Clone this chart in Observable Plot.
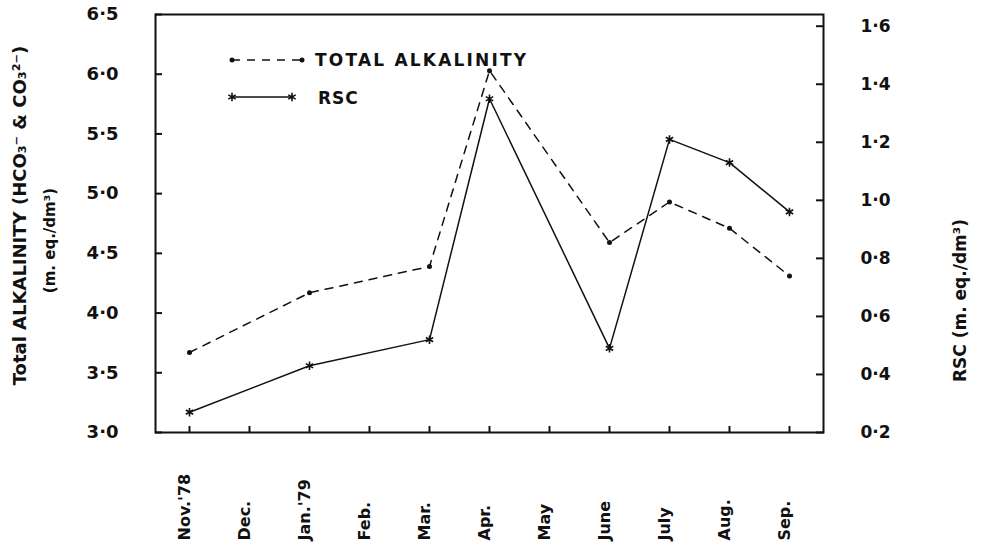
<!DOCTYPE html>
<html><head><meta charset="utf-8">
<script src="https://cdn.jsdelivr.net/npm/d3@7"></script>
<script src="https://cdn.jsdelivr.net/npm/@observablehq/plot@0.6"></script>
<style>
html,body{margin:0;padding:0;background:#fff;}
</style></head><body><div id="chart"></div>
<script>
const months = ["Nov.'78","Dec.","Jan.'79","Feb.","Mar.","Apr.","May","June","July","Aug.","Sep."];
const sampleMonths = ["Nov.'78","Jan.'79","Mar.","Apr.","June","July","Aug.","Sep."];
const taValues = [3.67,4.17,4.39,6.03,4.59,4.93,4.71,4.31];
const rscValues = [0.27,0.43,0.52,1.35,0.49,1.21,1.13,0.96];
const leftTicks = [3.0,3.5,4.0,4.5,5.0,5.5,6.0,6.5];
const rightTicks = [0.2,0.4,0.6,0.8,1.0,1.2,1.4,1.6];
const leftTitle = "Total ALKALINITY (HCO\u2083\u207B & CO\u2083\u00B2\u207B)";
const leftTitle2 = "(m. eq./dm\u00B3)";
const rightTitle = "RSC (m. eq./dm\u00B3)";
const legendLabels = ["TOTAL ALKALINITY", "RSC"];

// right (RSC) axis mapped onto the left (alkalinity) scale
const toLeft = r => 3.0 + (r - 0.2) * 2.43;
const toRight = l => 0.2 + (l - 3.0) / 2.43;
const fmt = v => d3.format(".1f")(v).replace(".", "\u00B7");

const ta = sampleMonths.map((m, i) => ({month: m, value: taValues[i]}));
const rsc = sampleMonths.map((m, i) => ({month: m, value: toLeft(rscValues[i])}));

const font = "'DejaVu Sans', sans-serif";
const ink = "#111";

const plot = Plot.plot({
  width: 982, height: 553,
  marginLeft: 155, marginRight: 159, marginTop: 14, marginBottom: 121,
  style: {fontFamily: font, background: "#fff", color: ink},
  x: {type: "point", domain: months, padding: 0.48, axis: null},
  y: {domain: [3.0, 6.5], axis: null},
  marks: [
    Plot.frame({stroke: ink, strokeWidth: 2}),
    Plot.axisY(leftTicks, {anchor: "left", tickSize: -7, tickPadding: 44, tickFormat: fmt,
      fontSize: 18, fontWeight: "bold", label: null, strokeWidth: 2}),
    Plot.axisY(rightTicks.map(toLeft), {anchor: "right", tickSize: -8, tickPadding: 45,
      tickFormat: d => fmt(toRight(d)), fontSize: 17, fontWeight: "bold", label: null, strokeWidth: 2}),
    Plot.axisX(months, {anchor: "bottom", tickSize: -6, tickFormat: () => "", label: null, strokeWidth: 2}),
    Plot.text(months, {x: d => d, text: d => d, frameAnchor: "bottom", rotate: -90,
      textAnchor: "start", dy: 108, fontSize: 16, fontWeight: "bold"}),
    Plot.line(ta, {x: "month", y: "value", stroke: ink, strokeWidth: 1.5, strokeDasharray: "8,7"}),
    Plot.dot(ta, {x: "month", y: "value", r: 2.5, fill: ink}),
    Plot.line(rsc, {x: "month", y: "value", stroke: ink, strokeWidth: 1.5}),
    Plot.dot(rsc, {x: "month", y: "value", r: 4, symbol: "asterisk", stroke: ink, strokeWidth: 1.6}),
    Plot.text([leftTitle], {frameAnchor: "left", textAnchor: "middle", dx: -135, dy: -8, rotate: -90,
      fontSize: 18, fontWeight: "bold", letterSpacing: 0.5}),
    Plot.text([leftTitle2], {frameAnchor: "left", textAnchor: "middle", dx: -105, dy: 17, rotate: -90,
      fontSize: 15, fontWeight: "bold"}),
    Plot.text([rightTitle], {frameAnchor: "right", textAnchor: "middle", dx: 137, dy: 77, rotate: -90,
      fontSize: 17, fontWeight: "bold", letterSpacing: 2})
  ]
});

// legend
const svg = d3.select(plot);
const lg = svg.append("g").attr("font-family", font).attr("font-weight", "bold").attr("text-anchor", "start");
lg.append("line").attr("x1", 232).attr("x2", 302).attr("y1", 60).attr("y2", 60)
  .attr("stroke", ink).attr("stroke-width", 1.5).attr("stroke-dasharray", "8,7");
[232, 302].forEach(x => lg.append("circle").attr("cx", x).attr("cy", 60).attr("r", 2.5).attr("fill", ink));
lg.append("text").attr("x", 315).attr("y", 66).attr("font-size", 17).attr("letter-spacing", 2.2)
  .attr("fill", ink).text(legendLabels[0]);
lg.append("line").attr("x1", 232).attr("x2", 292).attr("y1", 97).attr("y2", 97)
  .attr("stroke", ink).attr("stroke-width", 1.5);
const star = d3.symbol().type(d3.symbolAsterisk).size(Math.PI * 4 * 4);
[232, 292].forEach(x => lg.append("path").attr("d", star()).attr("transform", `translate(${x},97)`)
  .attr("fill", "none").attr("stroke", ink).attr("stroke-width", 1.6));
lg.append("text").attr("x", 318).attr("y", 104).attr("font-size", 17).attr("letter-spacing", 1)
  .attr("fill", ink).text(legendLabels[1]);

document.getElementById("chart").appendChild(plot);
</script></body></html>
